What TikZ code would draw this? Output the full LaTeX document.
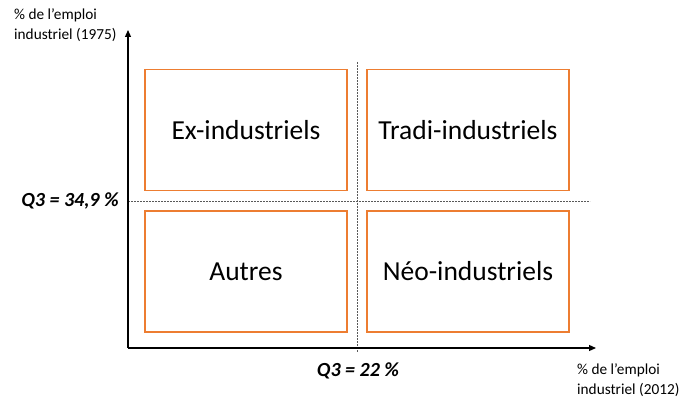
\documentclass[tikz,border=0pt]{standalone}
\usepackage{fontspec}
\setmainfont{Carlito}
\usetikzlibrary{arrows.meta}
\definecolor{boxorange}{RGB}{237,125,49}
\begin{document}
\begin{tikzpicture}[x=1pt,y=-1pt,
  quad/.style={draw=boxorange,line width=1.3pt,minimum width=202pt,minimum height=121pt,font=\fontsize{27.5}{30}\selectfont,inner sep=0pt},
  axis/.style={line width=1.2pt,-{Triangle[length=7pt,width=6pt]}},
  guide/.style={dash pattern=on 1.6pt off 1.4pt,line width=1pt,black!65},
  qlab/.style={font=\fontsize{20}{23}\selectfont\bfseries\itshape},
  axlab/.style={font=\fontsize{15.3}{20}\selectfont,align=left,anchor=north west,inner sep=0pt}]
\useasboundingbox (0,0) rectangle (682,398);
\coordinate (o) at (128,348);
\coordinate (ytip) at (128,30);
\coordinate (xtip) at (596,348);
\coordinate (vtop) at (357,62);
\coordinate (vbot) at (357,352);
\coordinate (hl) at (128,201);
\coordinate (hr) at (590,201);
\draw[guide] (vtop) -- (vbot);
\draw[guide] (hl) -- (hr);
\node[quad] (exi) at (246,130) {Ex-industriels};
\node[quad] (tra) at (468,130) {Tradi-industriels};
\node[quad] (aut) at (246,271.5) {Autres};
\node[quad] (neo) at (468,271.5) {Néo-industriels};
\draw[axis] (o) -- (ytip);
\draw[axis] (o) -- (xtip);
\node[qlab] (q3y) at (70,201) {Q3 = 34,9 \%};
\node[qlab] (q3x) at (358,371) {Q3 = 22 \%};
\node[axlab] (ylab) at (14,9) {\% de l’emploi\\industriel (1975)};
\node[axlab] (xlab) at (577,364) {\% de l’emploi\\industriel (2012)};
\end{tikzpicture}
\end{document}
